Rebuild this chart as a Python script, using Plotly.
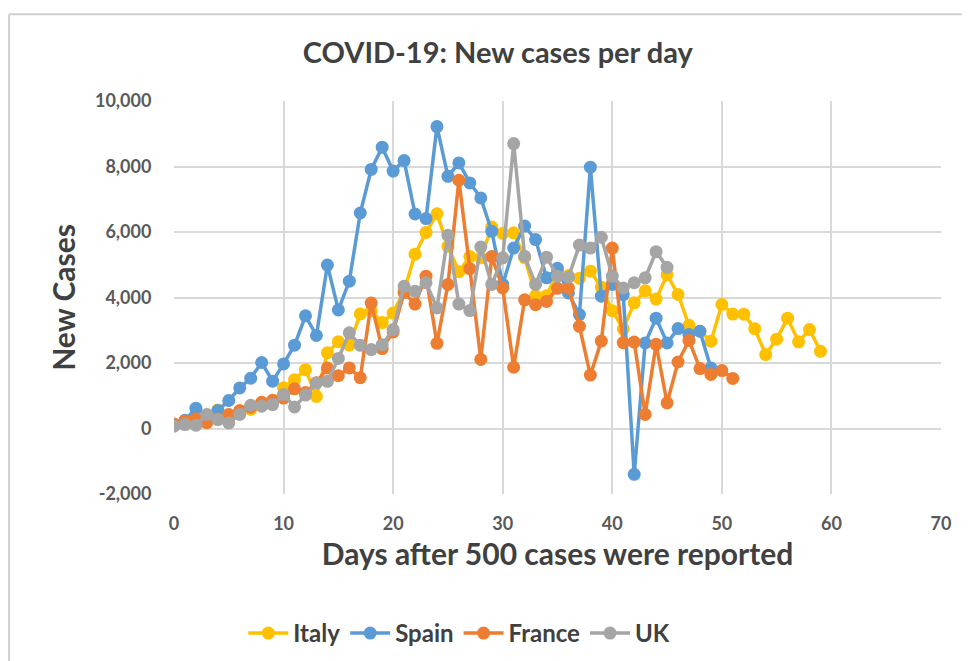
import plotly.graph_objects as go

# new cases per day, indexed by days after 500 cases were reported
italy = [131, 202, 233, 240, 566, 342, 466, 587, 769, 778,
         1247, 1492, 1797, 977, 2313, 2651, 2547, 3497, 3590, 3233,
         3526, 4207, 5322, 5986, 6557, 5560, 4789, 5249, 5210, 6153,
         5959, 5974, 5217, 4050, 4053, 4782, 4668, 4585, 4805, 4316,
         3599, 3039, 3836, 4204, 3951, 4694, 4092, 3153, 2972, 2667,
         3786, 3493, 3491, 3047, 2256, 2729, 3370, 2646, 3021, 2357]
spain = [100, 250, 620, 400, 550, 855, 1240, 1535, 2015, 1445,
         1973, 2543, 3440, 2840, 4990, 3620, 4500, 6580, 7910, 8590,
         7860, 8180, 6550, 6410, 9220, 7700, 8110, 7500, 7040, 6020,
         4400, 5510, 6180, 5770, 4600, 4890, 4140, 3480, 7980, 4040,
         4400, 4090, -1400, 2610, 3370, 2610, 3050, 2870, 2970, 1850]
france = [140, 230, 300, 180, 290, 430, 550, 650, 800, 860,
          930, 1210, 1100, 1400, 1850, 1610, 1850, 1550, 3830, 2440,
          2950, 4150, 3800, 4650, 2600, 4400, 7580, 4880, 2110, 5250,
          4290, 1870, 3930, 3780, 3880, 4280, 4290, 3120, 1630, 2670,
          5510, 2620, 2640, 430, 2570, 780, 2030, 2690, 1830, 1650,
          1770, 1530]
uk = [70, 120, 100, 430, 270, 170, 430, 710, 680, 730,
      1040, 660, 1020, 1390, 1440, 2140, 2920, 2540, 2410, 2560,
      3020, 4340, 4190, 4450, 3680, 5900, 3800, 3600, 5540, 4400,
      5210, 8700, 5260, 4400, 5230, 4650, 4620, 5600, 5510, 5840,
      4650, 4290, 4450, 4600, 5400, 4920]

series = [
    ("Italy", italy, "#FFC000"),
    ("Spain", spain, "#5B9BD5"),
    ("France", france, "#ED7D31"),
    ("UK", uk, "#A5A5A5"),
]

y_ticks = [-2000, 0, 2000, 4000, 6000, 8000, 10000]
y_labels = ["-2,000", "0", "2,000", "4,000", "6,000", "8,000", "10,000"]
x_ticks = [0, 10, 20, 30, 40, 50, 60, 70]
x_labels = ["0", "10", "20", "30", "40", "50", "60", "70"]

FONT = "Lato"
TEXT = "#404040"
TICK = "#595959"
BORDER = "#d0d0d0"

fig = go.Figure()
for name, vals, color in series:
    fig.add_scatter(
        x=list(range(len(vals))), y=vals,
        mode="lines+markers", name=f"<b>{name}</b>",
        line=dict(color=color, width=3.5),
        marker=dict(color=color, size=13),
    )

fig.update_layout(
    width=970, height=661,
    margin=dict(l=166, r=37, t=93, b=175, autoexpand=False),
    paper_bgcolor="white", plot_bgcolor="white",
    font=dict(family=FONT, color=TEXT),
    title=dict(text="<b>COVID-19: New cases per day</b>", x=0.505, xanchor="center",
               y=0.932, yanchor="middle", font=dict(size=29, color=TEXT)),
    xaxis=dict(
        range=[0, 70], tickvals=x_ticks, ticktext=[f"<b>{t}</b>" for t in x_labels],
        showgrid=True, gridcolor="#d9d9d9", gridwidth=2,
        zeroline=False, showline=False,
        ticks="outside", ticklen=13, tickcolor="rgba(0,0,0,0)",
        tickfont=dict(size=18, color=TICK),
        title=dict(text="<b>Days after 500 cases were reported</b>",
                   font=dict(size=30, color=TEXT), standoff=11),
    ),
    yaxis=dict(
        range=[-2000, 10000], tickvals=y_ticks, ticktext=[f"<b>{t}</b>" for t in y_labels],
        showgrid=True, gridcolor="#d9d9d9", gridwidth=2,
        zeroline=False, showline=False,
        ticks="outside", ticklen=18, tickcolor="rgba(0,0,0,0)",
        tickfont=dict(size=18, color=TICK),
        title=dict(text="<b>New Cases</b>", font=dict(size=30, color=TEXT), standoff=10),
    ),
    legend=dict(orientation="h", x=0.372, xanchor="center", y=-0.355, yanchor="middle",
                font=dict(size=24, color=TEXT), itemwidth=40, traceorder="normal"),
    showlegend=True,
    shapes=[
        # chart-area frame (top and left edges visible in the picture)
        dict(type="line", xref="paper", yref="paper",
             x0=-0.215, y0=1.221, x1=1.1, y1=1.221,
             line=dict(color=BORDER, width=2)),
        dict(type="line", xref="paper", yref="paper",
             x0=-0.215, y0=1.221, x1=-0.215, y1=-0.5,
             line=dict(color=BORDER, width=2)),
    ],
)

fig.write_html("out.html")
